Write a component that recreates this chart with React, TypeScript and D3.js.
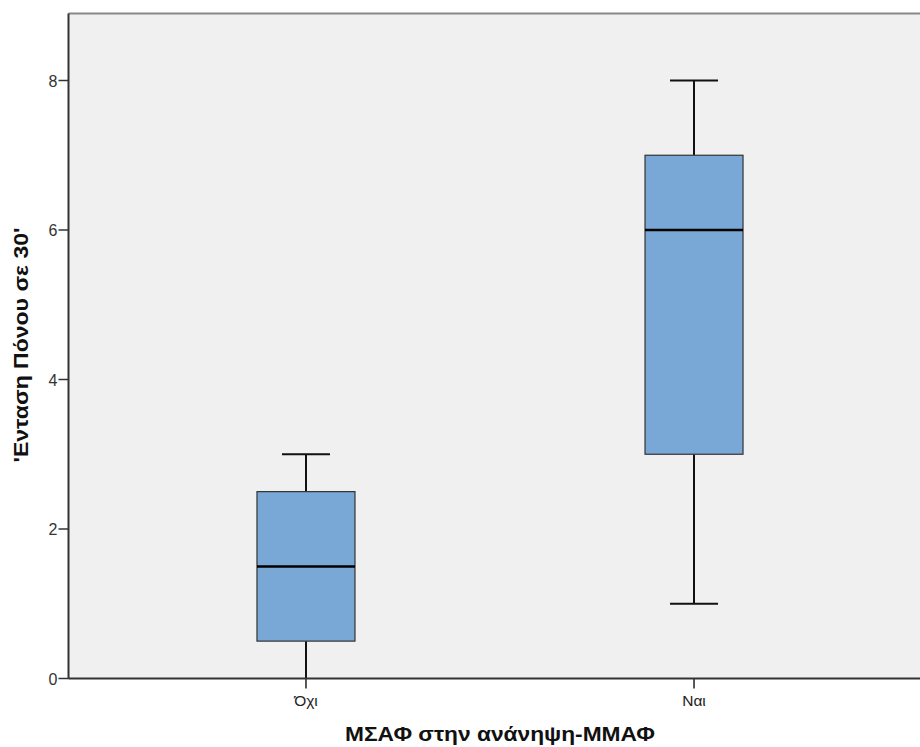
import React from "react";
import * as d3 from "d3";

const categories = ["Όχι", "Ναι"];
const mins = [0, 1];
const q1s = [0.5, 3];
const medians = [1.5, 6];
const q3s = [2.5, 7];
const maxs = [3, 8];
const yTicks = [0, 2, 4, 6, 8];
const yTitle = "'Ενταση Πόνου σε 30'";
const xTitle = "ΜΣΑΦ στην ανάνηψη-ΜΜΑΦ";

const W = 920;
const H = 747;
const left = 68.5;
const right = 931.5;
const top = 13.5;
const bottom = 678.5;

export default function App() {
  const y = d3.scaleLinear().domain([0, 8]).range([bottom, bottom - 8 * 74.75]);
  const x = d3.scalePoint<string>().domain(categories).range([left, right]).padding(0.612);
  const boxW = 98;
  const capW = 48;
  const font = "'Liberation Sans', Arial, sans-serif";
  return (
    <svg width={W} height={H} style={{ position: "absolute", left: 0, top: 0 }}>
      <rect x={0} y={0} width={W} height={H} fill="#fff" />
      <rect x={left} y={top} width={right - left} height={bottom - top} fill="#f0f0f0" />
      <line x1={left} x2={right} y1={top} y2={top} stroke="#888" strokeWidth={2} />
      {categories.map((c, i) => {
        const cx = x(c)!;
        return (
          <g key={c}>
            <line x1={cx} x2={cx} y1={y(maxs[i])} y2={y(q3s[i])} stroke="#111" strokeWidth={2} />
            <line x1={cx} x2={cx} y1={y(q1s[i])} y2={y(mins[i])} stroke="#111" strokeWidth={2} />
            <line x1={cx - capW / 2} x2={cx + capW / 2} y1={y(maxs[i])} y2={y(maxs[i])} stroke="#111" strokeWidth={2} />
            {mins[i] > 0 && (
              <line x1={cx - capW / 2} x2={cx + capW / 2} y1={y(mins[i])} y2={y(mins[i])} stroke="#111" strokeWidth={2} />
            )}
            <rect x={cx - boxW / 2} y={y(q3s[i])} width={boxW} height={y(q1s[i]) - y(q3s[i])} fill="#79a8d6" stroke="#333" strokeWidth={1.2} />
            <line x1={cx - boxW / 2} x2={cx + boxW / 2} y1={y(medians[i])} y2={y(medians[i])} stroke="#000" strokeWidth={2.5} />
            <line x1={cx} x2={cx} y1={bottom} y2={bottom + 10} stroke="#222" strokeWidth={1.5} />
            <text x={cx} y={bottom + 27} textAnchor="middle" fontFamily={font} fontSize={15.5} fill="#222">{c}</text>
          </g>
        );
      })}
      <line x1={left} x2={left} y1={top} y2={bottom} stroke="#333" strokeWidth={2} />
      <line x1={left} x2={right} y1={bottom} y2={bottom} stroke="#333" strokeWidth={2} />
      {yTicks.map((t) => (
        <g key={t}>
          <line x1={left - 10} x2={left} y1={y(t)} y2={y(t)} stroke="#333" strokeWidth={1.5} />
          <text x={left - 11} y={y(t) + 6} textAnchor="end" fontFamily={font} fontSize={16} fill="#333">{t}</text>
        </g>
      ))}
      <text transform={`translate(28,345) rotate(-90)`} textAnchor="middle" fontFamily={font} fontWeight="bold" fontSize={21} textLength={235} lengthAdjust="spacingAndGlyphs" fill="#111">{yTitle}</text>
      <text x={500} y={741} textAnchor="middle" fontFamily={font} fontWeight="bold" fontSize={21} textLength={310} lengthAdjust="spacingAndGlyphs" fill="#111">{xTitle}</text>
    </svg>
  );
}
